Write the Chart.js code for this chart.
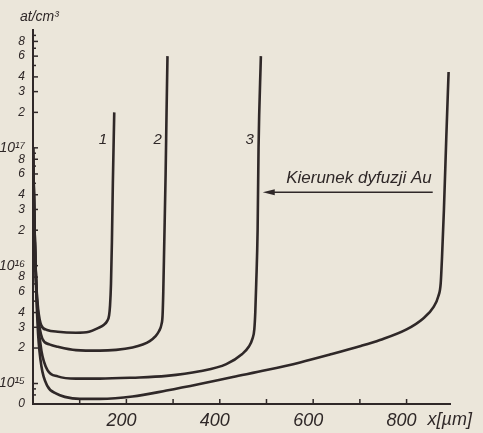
<!DOCTYPE html>
<html>
<head>
<meta charset="utf-8">
<script src="https://cdn.jsdelivr.net/npm/chart.js@4.4.1/dist/chart.umd.min.js"></script>
<style>
  html, body { margin: 0; padding: 0; background: #ebe6da; }
  #wrap { width: 483px; height: 433px; }
</style>
</head>
<body>
<div id="wrap"><canvas id="profileChart" width="483" height="433"></canvas></div>
<script>
// depth x in um, Au concentration in at/cm3
var curve1X = [0, 2, 4, 7, 11, 18, 30, 53, 92, 120, 139, 152, 159, 163, 165, 167, 169, 171, 174];
var curve1Y = [1e17, 4e16, 1.6e16, 7e15, 4.3e15, 3.1e15, 2.85e15, 2.75e15, 2.7e15, 2.75e15, 2.95e15, 3.15e15, 3.4e15, 3.8e15, 4.6e15, 7e15, 1.6e16, 5e16, 2e17];

var curve2X = [0, 2, 4, 7, 11, 20, 35, 53, 92, 143, 178, 213, 235, 250, 262, 270, 275, 277.5, 279, 281, 284, 286, 288];
var curve2Y = [1e17, 4e16, 1.6e16, 7e15, 3.8e15, 2.4e15, 2.15e15, 2.05e15, 1.92e15, 1.9e15, 1.93e15, 2.02e15, 2.14e15, 2.29e15, 2.51e15, 2.79e15, 3.16e15, 3.8e15, 6e15, 1.5e16, 6e16, 2e17, 6e17];

var curve3X = [0, 2, 4, 7, 11, 18, 31, 53, 92, 143, 213, 286, 357, 414, 448, 462, 470, 474, 476, 478, 481, 483, 488];
var curve3Y = [1e17, 4e16, 1.6e16, 6.5e15, 3.3e15, 1.9e15, 1.3e15, 1.15e15, 1.1e15, 1.1e15, 1.12e15, 1.16e15, 1.27e15, 1.46e15, 1.78e15, 2.05e15, 2.4e15, 2.9e15, 4e15, 7e15, 2e16, 1e17, 6e17];

var curve4X = [0, 2, 4, 7, 11, 18, 31, 50, 68, 100, 143, 213, 286, 357, 428, 500, 572, 636, 700, 743, 800, 835, 858, 868, 873, 876, 880, 885, 890];
var curve4Y = [1e17, 4e16, 1.6e16, 6e15, 2.6e15, 1.4e15, 9.5e14, 8.2e14, 7.7e14, 7.4e14, 7.41e14, 7.76e14, 8.71e14, 9.89e14, 1.135e15, 1.3e15, 1.51e15, 1.76e15, 2.07e15, 2.34e15, 2.88e15, 3.55e15, 4.47e15, 5.5e15, 7e15, 1.2e16, 3e16, 1.2e17, 4.4e17];

var curveNames = ["1", "2", "3", "4"];

var xTickValues = [100, 200, 300, 400, 500, 600, 700, 800];
var xTickLabels = ["", "200", "", "400", "", "600", "", "800"];

var yTickValues = [6.7e14, 8e14, 9e14,
  1e15, 2e15, 3e15, 4e15, 5e15, 6e15, 7e15, 8e15, 9e15,
  1e16, 2e16, 3e16, 4e16, 5e16, 6e16, 7e16, 8e16, 9e16,
  1e17, 2e17, 3e17, 4e17, 5e17, 6e17, 7e17, 8e17, 9e17];
var yTickLabels = ["0", "", "",
  "10¹⁵", "2", "3", "4", "", "6", "", "8", "",
  "10¹⁶", "2", "3", "4", "", "6", "", "8", "",
  "10¹⁷", "2", "3", "4", "", "6", "", "8", ""];

var ink = "#2f2828";
var fontFamily = "'Liberation Sans', Arial, sans-serif";

function toPoints(xs, ys) {
  return xs.map(function (x, i) {
    return { x: x, y: ys[i] };
  });
}

// axis ticks pointing inwards, axis texts, curve numbers and the arrow
var decorations = {
  id: "decorations",
  afterDraw: function (chart) {
    var ctx = chart.ctx;
    var xs = chart.scales.x;
    var ys = chart.scales.y;
    var area = chart.chartArea;
    ctx.save();
    ctx.strokeStyle = ink;
    ctx.lineWidth = 1.5;
    ys.ticks.forEach(function (t, i) {
      if (i === 0) return;
      var py = ys.getPixelForValue(t.value);
      var len = yTickLabels[i] ? 5 : 3;
      ctx.beginPath();
      ctx.moveTo(area.left, py);
      ctx.lineTo(area.left + len, py);
      ctx.stroke();
    });
    xs.ticks.forEach(function (t) {
      var px = xs.getPixelForValue(t.value);
      ctx.beginPath();
      ctx.moveTo(px, area.bottom);
      ctx.lineTo(px, area.bottom - 5);
      ctx.stroke();
    });

    ctx.fillStyle = ink;
    ctx.textBaseline = "middle";
    ctx.textAlign = "left";
    ctx.font = "italic 14px " + fontFamily;
    ctx.fillText("at/cm³", area.left - 13, area.top - 13);
    ctx.font = "italic 18px " + fontFamily;
    ctx.fillText("x[µm]", xs.getPixelForValue(800) + 21, area.bottom + 16);

    // curve numbers
    ctx.textAlign = "center";
    ctx.font = "italic 15px " + fontFamily;
    [[150, 1.18e17], [267, 1.18e17], [464, 1.18e17]].forEach(function (p, i) {
      ctx.fillText(curveNames[i], xs.getPixelForValue(p[0]), ys.getPixelForValue(p[1]));
    });

    // diffusion direction arrow
    var ay = ys.getPixelForValue(4.2e16);
    var ax0 = xs.getPixelForValue(492);
    var ax1 = xs.getPixelForValue(856);
    ctx.lineWidth = 1.5;
    ctx.beginPath();
    ctx.moveTo(ax0 + 8, ay);
    ctx.lineTo(ax1, ay);
    ctx.stroke();
    ctx.beginPath();
    ctx.moveTo(ax0, ay);
    ctx.lineTo(ax0 + 12, ay - 3);
    ctx.lineTo(ax0 + 12, ay + 3);
    ctx.closePath();
    ctx.fill();
    ctx.font = "italic 17px " + fontFamily;
    ctx.fillText("Kierunek dyfuzji Au", xs.getPixelForValue(698), ys.getPixelForValue(5.5e16));
    ctx.restore();
  }
};

var lineStyle = {
  borderColor: ink,
  borderWidth: 2.6,
  pointRadius: 0,
  fill: false,
  cubicInterpolationMode: "monotone"
};

var datasets = [
  [curve1X, curve1Y],
  [curve2X, curve2Y],
  [curve3X, curve3Y],
  [curve4X, curve4Y]
].map(function (c, i) {
  return Object.assign({ label: curveNames[i], data: toPoints(c[0], c[1]) }, lineStyle);
});

var ctx = document.getElementById("profileChart").getContext("2d");
var profileChart = new Chart(ctx, {
  type: "line",
  data: { datasets: datasets },
  plugins: [decorations],
  options: {
    responsive: false,
    animation: false,
    devicePixelRatio: 1,
    layout: { padding: { top: 30, right: 33, left: 0, bottom: 0 } },
    plugins: {
      legend: { display: false },
      tooltip: { enabled: false }
    },
    scales: {
      x: {
        type: "linear",
        min: 0,
        max: 893,
        grid: { display: false, drawTicks: false },
        border: { display: true, color: ink, width: 2 },
        afterBuildTicks: function (scale) {
          scale.ticks = xTickValues.map(function (v) { return { value: v }; });
        },
        afterFit: function (scale) { scale.height = 29; },
        ticks: {
          autoSkip: false,
          maxRotation: 0,
          padding: 6,
          labelOffset: -5,
          color: ink,
          font: { family: fontFamily, style: "italic", size: 18 },
          callback: function (value, index) { return xTickLabels[index]; }
        }
      },
      y: {
        type: "logarithmic",
        min: 6.7e14,
        max: 1e18,
        grid: { display: false, drawTicks: false },
        border: { display: true, color: ink, width: 2 },
        afterBuildTicks: function (scale) {
          scale.ticks = yTickValues.map(function (v) { return { value: v }; });
        },
        afterFit: function (scale) { scale.width = 33; },
        ticks: {
          autoSkip: false,
          padding: 8,
          color: ink,
          font: function (c) {
            var lbl = yTickLabels[c.index] || "";
            return { family: fontFamily, style: "italic", size: lbl.indexOf("10") === 0 ? 14 : 12 };
          },
          callback: function (value, index) { return yTickLabels[index]; }
        }
      }
    }
  }
});
</script>
</body>
</html>
